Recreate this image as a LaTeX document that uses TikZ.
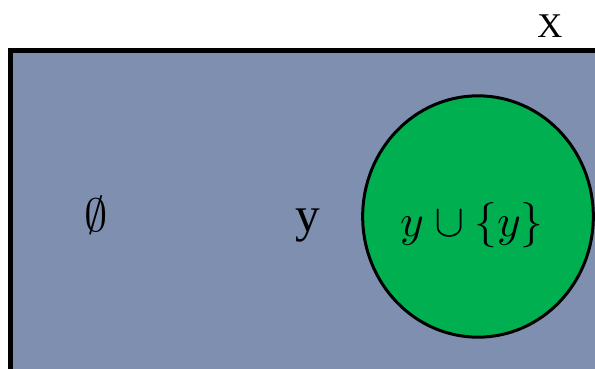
\documentclass[tikz,border=0pt]{standalone}
\usepackage{fontspec}
\usepackage{unicode-math}
\setmainfont{Liberation Serif}
\setmathfont{Latin Modern Math}
\usepackage{tikz}
\usetikzlibrary{positioning, shapes.geometric}
\definecolor{univCol}{HTML}{7F8FAF}
\definecolor{succCol}{HTML}{00B050}

\begin{document}
\begin{tikzpicture}[x=0.75pt, y=-0.75pt, every node/.style={inner sep=0pt, outer sep=0pt}]
    \useasboundingbox (0,0) rectangle (595,368);
    \clip (0,0) rectangle (595,368);
    % the set X, cut off at the right and bottom
    \filldraw[fill=univCol, draw=black, line width=4pt]
      (10.5,50.5) rectangle (660,430);
    \node[ellipse, fill=succCol, draw=black, line width=2.25pt,
      minimum width=173pt, minimum height=181pt] (succ) at (478,216.5) {};
    \node[anchor=base, font=\fontsize{26}{30}\selectfont] (setX) at (550,37) {X};
    \node[anchor=base, font=\fontsize{35}{42}\selectfont] (empty) at (96,231) {$\emptyset$};
    \node[anchor=base, font=\fontsize{37}{44}\selectfont] (elemY) at (308,231) {y};
    \node[anchor=base, font=\fontsize{34}{40}\selectfont] (succText) at (472,236) {$y \cup \{y\}$};
  \end{tikzpicture}
\end{document}
